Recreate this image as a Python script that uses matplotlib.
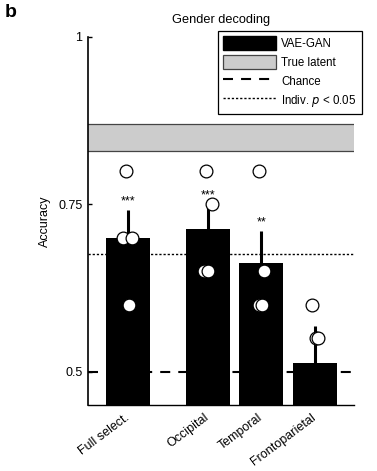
import numpy as np
import matplotlib
matplotlib.use("Agg")
import matplotlib.pyplot as plt
from matplotlib.patches import Patch
from matplotlib.lines import Line2D

plt.rcParams['font.family'] = ['Liberation Sans', 'DejaVu Sans']
plt.rcParams['lines.scale_dashes'] = False

# Data
regions = ["Full select.", "Occipital", "Temporal", "Frontoparietal"]
subject_acc = [
    [0.80, 0.70, 0.70, 0.60],
    [0.80, 0.75, 0.65, 0.65],
    [0.80, 0.65, 0.60, 0.60],
    [0.60, 0.55, 0.55, 0.35],
]
stars = ["***", "***", "**", ""]
true_latent = (0.83, 0.87)
chance = 0.5
indiv_p05 = 0.675

# Layout
xpos = [0, 1.5, 2.5, 3.5]
jitter = [
    [-0.04, -0.09, 0.075, 0.02],
    [-0.04, 0.075, -0.075, 0.0],
    [-0.04, 0.06, -0.04, 0.02],
    [-0.04, 0.02, 0.06, 0.0],
]
bar_w = 0.825

means = [np.mean(v) for v in subject_acc]
sems = [np.std(v, ddof=1) / np.sqrt(len(v)) for v in subject_acc]

fig = plt.figure(figsize=(3.77, 4.71), dpi=100)
ax = fig.add_axes([88 / 377, 1 - 405 / 471, 266 / 377, 368 / 471])

# true latent band
ax.axhspan(true_latent[0], true_latent[1], color='#cccccc', lw=0, zorder=1)
for y in true_latent:
    ax.axhline(y, color='#444444', lw=0.9, zorder=1.5)

ax.axhline(chance, color='black', lw=1.5, linestyle=(0, (7.2, 5.8)), zorder=1)
ax.axhline(indiv_p05, color='black', lw=1.0, linestyle=(0, (1.6, 1.4)), zorder=1)

ax.bar(xpos, means, width=bar_w, color='black', zorder=2)
ax.errorbar(xpos, means, yerr=[np.zeros(len(means)), sems], fmt='none',
            ecolor='black', elinewidth=2.2, capsize=0, zorder=3)

for i, vals in enumerate(subject_acc):
    xs = [xpos[i] + j for j in jitter[i]]
    ax.plot(xs, vals, 'o', ms=9.2, mfc='white', mec='black', mew=0.9,
            zorder=4, clip_on=True)
    if stars[i]:
        ax.text(xpos[i], means[i] + sems[i] + 0.013, stars[i], ha='center',
                va='center', fontsize=9, zorder=5)

ax.set_xlim(-0.75, 4.24)
ax.set_ylim(0.45, 1.0)
ax.set_yticks([0.5, 0.75, 1])
ax.set_yticklabels(["0.5", "0.75", "1"])
ax.set_xticks(xpos)
ax.set_xticklabels(regions, rotation=37, ha='right', va='center',
                   rotation_mode='anchor')
ax.tick_params(axis='x', length=0, pad=8, labelsize=9)
ax.tick_params(axis='y', direction='in', length=3, width=1, labelsize=9, pad=4)
for s in ['top', 'right']:
    ax.spines[s].set_visible(False)
ax.spines['left'].set_linewidth(1.2)
ax.spines['bottom'].set_linewidth(1.0)

ax.set_ylabel("Accuracy", fontsize=9, labelpad=5)
ax.set_title("Gender decoding", fontsize=9.2, pad=10)

handles = [
    Patch(facecolor='black', edgecolor='black', label='VAE-GAN'),
    Patch(facecolor='#cccccc', edgecolor='#444444', lw=0.9, label='True latent'),
    Line2D([], [], color='black', lw=1.5, linestyle=(0, (7.2, 5.8)), label='Chance'),
    Line2D([], [], color='black', lw=1.0, linestyle=(0, (1.6, 1.4)),
           label='Indiv. $\\it{p}$ < 0.05'),
]
leg = fig.legend(handles=handles, loc='upper left',
                 bbox_to_anchor=(218 / 377, 1 - 31 / 471),
                 bbox_transform=fig.transFigure, fontsize=8.3, frameon=True,
                 fancybox=False, edgecolor='black', framealpha=1,
                 handlelength=4.6, handleheight=1.5, handletextpad=0.45,
                 labelspacing=0.42, borderpad=0.45, borderaxespad=0)
leg.get_frame().set_linewidth(0.9)

fig.text(5 / 377, 1 - 4 / 471, "b", fontsize=14, fontweight='bold',
         ha='left', va='top')

fig.savefig("out.png", dpi=100)
